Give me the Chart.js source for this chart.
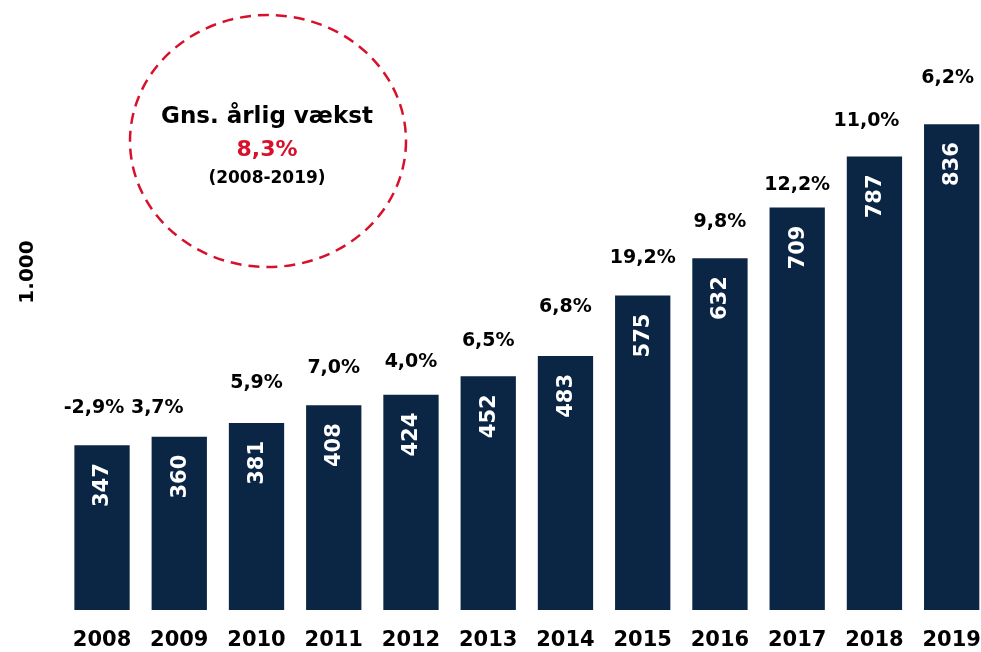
<!DOCTYPE html>
<html>
<head>
<meta charset="utf-8">
<script src="https://cdn.jsdelivr.net/npm/chart.js"></script>
<style>
  html, body { margin: 0; padding: 0; background: #fff; overflow: hidden; }
  #wrap { width: 981px; height: 652px; overflow: hidden; }
</style>
</head>
<body>
<div id="wrap"><canvas id="myChart" width="1000" height="652"></canvas></div>
<script>
// values
const years = ['2008','2009','2010','2011','2012','2013','2014','2015','2016','2017','2018','2019'];
const values = [347, 360, 381, 408, 424, 452, 483, 575, 632, 709, 787, 836];
const growth = ['-2,9%','3,7%','5,9%','7,0%','4,0%','6,5%','6,8%','19,2%','9,8%','12,2%','11,0%','6,2%'];

// hand placement of the growth labels above each bar [dx, lift]
const growthNudge = [[-8,37],[-22,29],[0,40],[0,37],[0,33],[0,35],[0,49],[0,38],[0,36],[0,23],[-8,35],[-4,46]];

const NAVY = 'rgb(11,38,69)';
const RED = 'rgb(215,16,43)';
const FONT = '"DejaVu Sans", sans-serif';

const barLabels = {
  id: 'barLabels',
  afterDatasetsDraw(chart) {
    const ctx = chart.ctx;
    const bars = chart.getDatasetMeta(0).data;
    ctx.save();
    bars.forEach((bar, i) => {
      // growth % above the bar
      ctx.fillStyle = '#000';
      ctx.font = 'bold 19px ' + FONT;
      ctx.textAlign = 'center';
      ctx.textBaseline = 'middle';
      ctx.fillText(growth[i], bar.x + growthNudge[i][0], bar.y - growthNudge[i][1]);

      // value inside the bar, rotated
      ctx.save();
      ctx.translate(bar.x + 1, bar.y + 18);
      ctx.rotate(-Math.PI / 2);
      ctx.fillStyle = '#fff';
      ctx.font = 'bold 21px ' + FONT;
      ctx.textAlign = 'right';
      ctx.textBaseline = 'middle';
      ctx.fillText(String(values[i]), 0, 0);
      ctx.restore();
    });

    // odd axis note on the left
    ctx.save();
    ctx.translate(28, 272);
    ctx.rotate(-Math.PI / 2);
    ctx.fillStyle = '#000';
    ctx.font = 'bold 20px ' + FONT;
    ctx.textAlign = 'center';
    ctx.textBaseline = 'middle';
    ctx.fillText('1.000', 0, 0);
    ctx.restore();

    // dashed circle with average growth
    ctx.save();
    ctx.strokeStyle = RED;
    ctx.lineWidth = 2.5;
    ctx.setLineDash([11, 7]);
    ctx.beginPath();
    ctx.ellipse(268, 141, 138, 126, 0, 0, Math.PI * 2);
    ctx.stroke();
    ctx.setLineDash([]);
    ctx.textAlign = 'center';
    ctx.textBaseline = 'alphabetic';
    ctx.fillStyle = '#000';
    ctx.font = 'bold 23px ' + FONT;
    ctx.fillText('Gns. årlig vækst', 267, 123);
    ctx.fillStyle = RED;
    ctx.font = 'bold 22px ' + FONT;
    ctx.fillText('8,3%', 267, 156);
    ctx.fillStyle = '#000';
    ctx.font = 'bold 17px ' + FONT;
    ctx.fillText('(2008-2019)', 267, 183);
    ctx.restore();

    ctx.restore();
  }
};

const data = {
  labels: years,
  datasets: [{
    data: values,
    backgroundColor: NAVY,
    borderWidth: 0,
    categoryPercentage: 1,
    barPercentage: 0.716
  }]
};

const config = {
  type: 'bar',
  data: data,
  options: {
    responsive: false,
    devicePixelRatio: 1,
    animation: false,
    layout: { padding: { top: 16.6, left: 63.4, right: 9.7, bottom: 0 } },
    plugins: {
      legend: { display: false },
      tooltip: { enabled: false },
      title: { display: false }
    },
    scales: {
      x: {
        grid: { display: false, drawTicks: false },
        border: { display: false },
        ticks: {
          color: '#000',
          padding: 18,
          font: { family: FONT, size: 21, weight: 'bold' }
        },
        afterFit(scale) { scale.height = 42; }
      },
      y: {
        display: false,
        min: 96,
        max: 1000
      }
    }
  },
  plugins: [barLabels]
};

const myChart = new Chart(document.getElementById('myChart'), config);
</script>
</body>
</html>
